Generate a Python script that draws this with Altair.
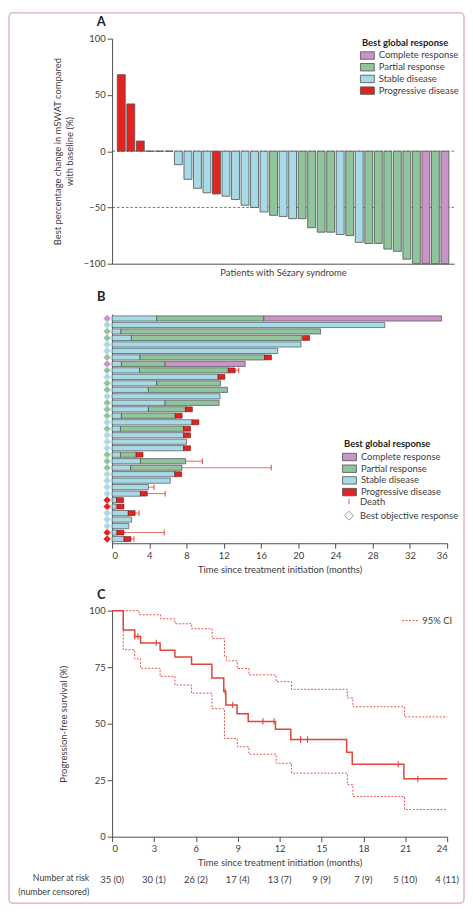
import altair as alt
import pandas as pd

FONT = "Lato"
TXT = "#3d3d3d"
AX = "#3a3a3a"
EDGE = "#4f4f4f"
CR_C, PR_C, SD_C, PD_C = "#c895c8", "#8fc49d", "#a7dae6", "#e3231f"
KM_RED = "#e0453d"
PINK = "#dcaabb"

categories = ["Complete response", "Partial response", "Stable disease", "Progressive disease"]
cat_colors = [CR_C, PR_C, SD_C, PD_C]
code = {"CR": categories[0], "PR": categories[1], "SD": categories[2], "PD": categories[3]}

# ---------------- Panel A: waterfall ----------------
a_change = [68, 42, 9, 0, 0, 0, -12, -25, -33, -37, -38, -40, -43, -48, -50, -54, -57, -58,
            -60, -60, -68, -72, -72, -74, -75, -81, -82, -82, -87, -89, -96, -100, -100, -100, -100]
a_resp = ["PD", "PD", "PD", "SD", "SD", "SD", "SD", "SD", "SD", "SD", "PD", "SD", "SD", "SD",
          "SD", "SD", "PR", "SD", "SD", "PR", "PR", "PR", "PR", "SD", "PR", "SD", "PR", "PR",
          "PR", "PR", "PR", "PR", "CR", "PR", "CR"]
a_refs = [0, -50]
a_ticks = [-100, -50, 0, 50, 100]

# ---------------- Panel B: swimmer ----------------
b_best = ["CR", "SD", "PR", "PR", "SD", "SD", "PR", "CR", "PR", "SD", "PR", "PR", "SD", "PR",
          "PR", "PR", "SD", "PR", "SD", "SD", "SD", "PR", "PR", "PR", "SD", "SD", "SD", "SD",
          "PD", "PD", "SD", "SD", "SD", "PD", "PD"]
b_sd_end = [4.8, 29.3, 0.95, 2.07, 20.3, 17.8, 3.0, 1.0, 2.95, 11.4, 4.8, 3.9, 11.6, 5.7,
            3.9, 1.0, 8.6, 0.9, 7.7, 8.0, 7.7, 0.9, 3.05, 2.0, 6.8, 6.25, 3.9, 3.05,
            0.5, 0.45, 1.75, 2.1, 1.8, 0.5, 1.3]
b_pr_end = [16.3, None, 22.4, 20.4, None, None, 16.4, 5.7, 12.5, None, 11.65, 12.4, None, 11.5,
            7.9, 6.8, None, 7.7, None, None, None, 2.6, 7.9, 7.5, None, None, None, None,
            None, None, None, None, None, None, None]
b_cr_end = [35.4, None, None, None, None, None, None, 14.3, None, None, None, None, None, None,
            None, None, None, None, None, None, None, None, None, None, None, None, None, None,
            None, None, None, None, None, None, None]
b_pd = [None, None, None, 20.85, None, None, 16.75, None, 12.85, 11.75, None, None, None, None,
        8.25, 7.15, 8.95, 8.05, 8.05, None, 8.05, 2.95, None, None, 7.1, None, None, 3.4,
        0.85, 0.9, 2.1, None, None, 0.9, 1.65]
b_death = [None, None, None, None, None, None, None, None, 13.6, None, None, None, None, None,
           None, None, None, None, None, None, None, None, 9.7, 17.1, None, None, 4.5, 5.7,
           None, None, 2.9, None, None, 5.6, 2.35]
b_ticks = list(range(0, 37, 4))

# ---------------- Panel C: Kaplan-Meier ----------------
c_km_t = [0, 0.8, 1.62, 2.04, 3.44, 4.5, 5.69, 7.15, 8.0, 8.15, 8.95, 9.75, 11.7, 12.8, 16.8, 17.2, 20.9, 24]
c_km_s = [100, 91.4, 88.6, 85.7, 82.5, 79.5, 76.3, 70.2, 64.2, 58.3, 54.4, 51.0, 47.5, 43.0, 37.4, 32.0, 25.6, 25.6]
c_ucl_t = [0, 1.94, 3.46, 4.5, 5.7, 7.17, 8.05, 8.2, 8.97, 9.8, 11.75, 12.85, 16.85, 17.25, 20.95, 24]
c_ucl_s = [100, 98.2, 96.4, 94.2, 92.0, 87.7, 79.7, 77.8, 74.4, 71.6, 68.6, 65.2, 61.4, 57.5, 53.0, 53.0]
c_lcl_t = [0, 0.8, 1.62, 2.04, 3.44, 4.5, 5.69, 7.15, 8.05, 8.97, 9.8, 11.75, 12.85, 16.85, 17.25, 20.95, 24]
c_lcl_s = [100, 82.7, 78.7, 74.5, 70.9, 67.1, 63.5, 56.6, 43.4, 39.8, 36.5, 32.5, 28.1, 23.0, 17.8, 12.0, 12.0]
c_cens_t = [1.62, 1.85, 3.16, 8.1, 8.64, 10.8, 11.6, 13.5, 14.0, 20.5, 21.9]
c_cens_s = [88.6, 88.6, 85.7, 64.2, 58.3, 51.0, 51.0, 43.0, 43.0, 32.0, 25.6]
c_risk_t = [0, 3, 6, 9, 12, 15, 18, 21, 24]
c_risk_n = [35, 30, 26, 17, 13, 9, 7, 5, 4]
c_risk_c = [0, 1, 2, 4, 7, 9, 9, 10, 11]
c_ticks_x = c_risk_t
c_ticks_y = [0, 25, 50, 75, 100]

WA, HA = 345, 227
WB, HB = 338, 231
WC, HC = 338, 228

RECT = "M-1.4,-0.75L1.4,-0.75L1.4,0.75L-1.4,0.75Z"
PDRECT = "M-1,-0.7L1,-0.7L1,0.7L-1,0.7Z"
VLINE = "M0,-0.6L0,0.6"
VTICK = "M0,-1L0,1"

dummy = pd.DataFrame({"k": [0]})


def letter(txt, dy):
    return alt.Chart(dummy).mark_text(text=txt, fontSize=13, fontWeight="bold", font=FONT,
                                      color="#222222", align="center", baseline="middle").encode(
        x=alt.value(-11), y=alt.value(dy))


# ---- A
dfA = pd.DataFrame({"pt": list(range(1, len(a_change) + 1)), "change": a_change,
                    "resp": [code[c] for c in a_resp]})
legA = alt.Legend(title="Best global response", orient="none", legendX=252, legendY=-1,
                  symbolType=RECT, symbolSize=100, symbolStrokeColor=EDGE, symbolStrokeWidth=0.8,
                  rowPadding=0.8, labelOffset=6, titlePadding=3, titleFontWeight="bold")
yA_axis = alt.Axis(values=a_ticks, title=["Best percentage change in mSWAT compared", "with baseline (%)"],
                   titlePadding=9, labelOverlap=False)
yA_scale = alt.Scale(domain=[-100, 100], nice=False)
xA = alt.X("pt:O", scale=alt.Scale(paddingInner=0.17, paddingOuter=0.55),
           axis=alt.Axis(labels=False, ticks=False, title="Patients with Sézary syndrome", titlePadding=4))
border = alt.Chart(dummy).mark_rect(fill="#ffffff", fillOpacity=0, stroke=PINK, strokeWidth=1.3,
                                    cornerRadius=4).encode(
    x=alt.value(-104), x2=alt.value(355), y=alt.value(-26), y2=alt.value(872))
rulesA = alt.Chart(pd.DataFrame({"v": a_refs})).mark_rule(
    strokeDash=[2.5, 2], color="#555555", strokeWidth=0.8).encode(
    y=alt.Y("v:Q", scale=yA_scale, axis=yA_axis))
barsA = alt.Chart(dfA).mark_bar(stroke=EDGE, strokeWidth=0.8).encode(
    x=xA, y=alt.Y("change:Q", scale=yA_scale, axis=yA_axis),
    color=alt.Color("resp:N", scale=alt.Scale(domain=categories, range=cat_colors), legend=legA),
)
chartA = alt.layer(border, rulesA, barsA, letter("A", -17)).properties(width=WA, height=HA)

# ---- B
seg_rows, death_rows, pd_rows = [], [], []
for i in range(len(b_best)):
    r = i + 1
    seg_rows.append({"row": r, "start": 0, "end": b_sd_end[i], "cat": categories[2]})
    last = b_sd_end[i]
    if b_pr_end[i] is not None:
        seg_rows.append({"row": r, "start": b_sd_end[i], "end": b_pr_end[i], "cat": categories[1]})
        last = b_pr_end[i]
    if b_cr_end[i] is not None:
        seg_rows.append({"row": r, "start": b_pr_end[i], "end": b_cr_end[i], "cat": categories[0]})
        last = b_cr_end[i]
    if b_pd[i] is not None:
        pd_rows.append({"row": r, "t": b_pd[i]})
        last = b_pd[i]
    if b_death[i] is not None:
        death_rows.append({"row": r, "start": last, "end": b_death[i], "lbl": "Death"})
dfSeg = pd.DataFrame(seg_rows)
dfPD = pd.DataFrame(pd_rows)
dfDeath = pd.DataFrame(death_rows)
dfBest = pd.DataFrame({"row": list(range(1, len(b_best) + 1)), "best": [code[c] for c in b_best]})

yB = alt.Y("row:O", scale=alt.Scale(paddingInner=0.2, paddingOuter=0.25),
           axis=alt.Axis(labels=False, ticks=False, title=None))
xB_scale = alt.Scale(domain=[0, 36], nice=False)
xB_axis = alt.Axis(values=b_ticks, title="Time since treatment initiation (months)", labelOverlap=False,
                   titlePadding=5)

legB = alt.Legend(title="Best global response", orient="none", legendX=234, legendY=126,
                  symbolType=RECT, symbolSize=100, symbolStrokeColor=EDGE, symbolStrokeWidth=0.8,
                  rowPadding=0.8, labelOffset=6, titlePadding=3, titleFontWeight="bold")
legB2 = alt.Legend(title=None, orient="none", legendX=234, legendY=184, symbolSize=81,
                   symbolStrokeWidth=1, rowPadding=2.2, labelOffset=6)

deathLines = alt.Chart(dfDeath).mark_rule(color=KM_RED, opacity=0.75, strokeWidth=1.1).encode(
    x=alt.X("start:Q", scale=xB_scale, axis=xB_axis), x2="end:Q", y=yB)
barsB = alt.Chart(dfSeg).mark_bar(stroke=EDGE, strokeWidth=0.7).encode(
    x=alt.X("start:Q", scale=xB_scale, axis=xB_axis),
    x2="end:Q",
    y=yB,
    color=alt.Color("cat:N", scale=alt.Scale(domain=categories, range=cat_colors), legend=legB),
)
pdB = alt.Chart(dfPD).mark_point(shape=PDRECT, filled=True, fill=PD_C, stroke="#6e1414",
                                 strokeWidth=0.6, size=49, opacity=1).encode(
    x=alt.X("t:Q", scale=xB_scale, axis=xB_axis), y=yB)
deathTicks = alt.Chart(dfDeath).mark_point(filled=False, strokeWidth=1.1, size=90, opacity=0.9).encode(
    x=alt.X("end:Q", scale=xB_scale, axis=xB_axis), y=yB,
    shape=alt.Shape("lbl:N", scale=alt.Scale(domain=["Death", "Best objective response"], range=[VLINE, "diamond"]),
                    legend=legB2),
    stroke=alt.Stroke("lbl:N", scale=alt.Scale(domain=["Death", "Best objective response"], range=[KM_RED, "#8a8a8a"]),
                      legend=legB2),
)
diamonds = alt.Chart(dfBest).mark_point(shape="diamond", filled=True, size=62, stroke="#f4f4f4",
                                        strokeWidth=0.5, opacity=1).encode(
    x=alt.value(-5), y=yB,
    fill=alt.Fill("best:N", scale=alt.Scale(domain=categories, range=cat_colors), legend=None))
chartB = alt.layer(deathLines, barsB, pdB, deathTicks, diamonds, letter("B", -17)).properties(
    width=WB, height=HB)

# ---- C
dfKM = pd.DataFrame({"t": c_km_t, "s": c_km_s})
dfCI = pd.concat([
    pd.DataFrame({"t": c_ucl_t, "s": c_ucl_s, "bound": "upper", "lbl": "95% CI"}),
    pd.DataFrame({"t": c_lcl_t, "s": c_lcl_s, "bound": "lower", "lbl": "95% CI"}),
], ignore_index=True)
dfCens = pd.DataFrame({"t": c_cens_t, "s": c_cens_s})
dfRisk = pd.DataFrame({"t": c_risk_t, "lbl": [f"{n} ({c})" for n, c in zip(c_risk_n, c_risk_c)]})

xC = alt.X("t:Q", scale=alt.Scale(domain=[0, 24], nice=False),
           axis=alt.Axis(values=c_ticks_x, title="Time since treatment initiation (months)", titlePadding=5,
                         labelOverlap=False))
yC = alt.Y("s:Q", scale=alt.Scale(domain=[0, 100], nice=False),
           axis=alt.Axis(values=c_ticks_y, title="Progression-free survival (%)", titlePadding=20,
                         labelOverlap=False))
legC = alt.Legend(title=None, orient="none", legendX=292, legendY=1, symbolType="stroke",
                  symbolSize=290, symbolStrokeColor=KM_RED, symbolStrokeWidth=0.9, symbolDash=[2, 1.5],
                  labelOffset=3)
ciLines = alt.Chart(dfCI).mark_line(interpolate="step-after", color=KM_RED, strokeWidth=0.9).encode(
    x=xC, y=yC, detail="bound:N",
    strokeDash=alt.StrokeDash("lbl:N", scale=alt.Scale(domain=["95% CI"], range=[[2, 1.5]]), legend=legC),
)
kmLine = alt.Chart(dfKM).mark_line(interpolate="step-after", color=KM_RED, strokeWidth=1.5).encode(x=xC, y=yC)
censC = alt.Chart(dfCens).mark_point(shape=VTICK, filled=False, color=KM_RED, size=40,
                                     strokeWidth=1.1, opacity=1).encode(x=xC, y=yC)
riskText = alt.Chart(dfRisk).mark_text(fontSize=9.5, color=TXT, font=FONT, baseline="middle").encode(
    x=xC, y=alt.value(HC + 44), text="lbl:N")
riskLabel = alt.Chart(dummy).mark_text(text=["Number at risk", "(number censored)"], align="right",
                                       baseline="top", lineHeight=14, fontSize=8.8, color=TXT,
                                       font=FONT).encode(x=alt.value(-23), y=alt.value(HC + 38))
chartC = alt.layer(ciLines, kmLine, censC, riskText, riskLabel, letter("C", -16)).properties(
    width=WC, height=HC)

IND = dict(color="independent", fill="independent", stroke="independent", shape="independent",
           strokeDash="independent")

inner = alt.vconcat(chartB, chartC, spacing=68, bounds="flush").resolve_scale(**IND).resolve_legend(**IND)
chart = alt.vconcat(chartA, inner, spacing=51, bounds="flush").resolve_scale(**IND).resolve_legend(
    **IND
).properties(
    padding={"left": 0, "top": 0, "right": 0, "bottom": 0}
).configure(font=FONT).configure_view(stroke=None).configure_axis(
    labelFont=FONT, titleFont=FONT, labelColor=TXT, titleColor=TXT, domainColor=AX, tickColor=AX,
    labelFontSize=9.5, titleFontSize=9.5, titleFontWeight="normal", grid=False,
    domainWidth=0.9, tickWidth=0.9, tickSize=5, labelPadding=2
).configure_legend(
    labelFont=FONT, titleFont=FONT, labelColor=TXT, titleColor="#222222", labelFontSize=9.5,
    titleFontSize=9.5
)

chart.save("out.html", embed_options={"renderer": "svg", "actions": False})
